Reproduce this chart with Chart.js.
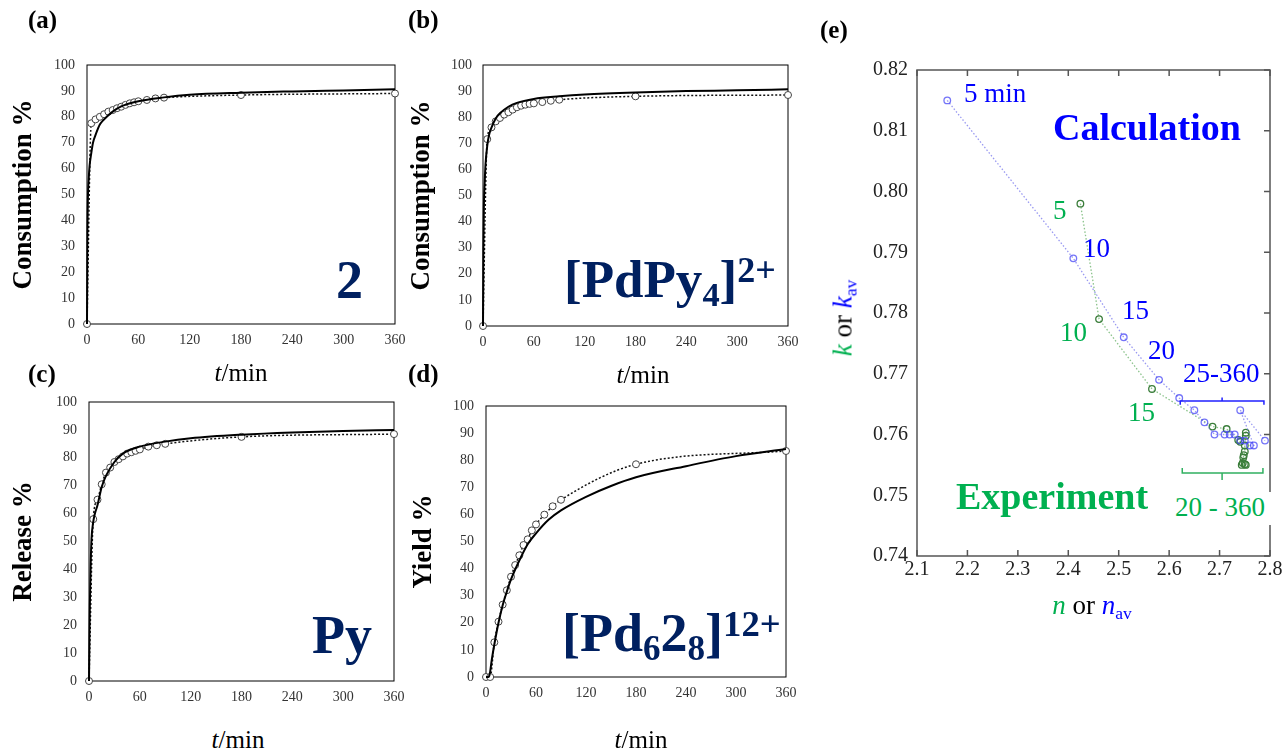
<!DOCTYPE html>
<html>
<head>
<meta charset="utf-8">
<script src="https://cdn.jsdelivr.net/npm/chart.js@4.4.1/dist/chart.umd.min.js"></script>
<style>
  body { margin: 0; background: #fff; }
  #page { position: relative; width: 1284px; height: 750px; font-family: "Liberation Serif", "Times New Roman", serif; overflow: hidden; }
  .box { position: absolute; }
  .lbl { position: absolute; white-space: nowrap; line-height: 1; }
  .navy { color: #002060; font-weight: bold; }
  .lo { font-size: 0.65em; vertical-align: -0.27em; line-height: 0; }
  .hi { font-size: 0.68em; vertical-align: 0.42em; line-height: 0; }
  .blue { color: #0000ff; }
  .green { color: #00b050; }
</style>
</head>
<body>
<div id="page">
  <div class="box" style="left:0;top:0;width:410px;height:360px"><canvas id="chartA"></canvas></div>
  <div class="box" style="left:400px;top:0;width:400px;height:362px"><canvas id="chartB"></canvas></div>
  <div class="box" style="left:0;top:365px;width:410px;height:352px"><canvas id="chartC"></canvas></div>
  <div class="box" style="left:400px;top:365px;width:400px;height:348px"><canvas id="chartD"></canvas></div>
  <div class="box" style="left:820px;top:0;width:464px;height:600px"><canvas id="chartE"></canvas></div>

  <!-- panel letters -->
  <div class="lbl" style="left:28px;top:7px;font-size:25px;font-weight:bold">(a)</div>
  <div class="lbl" style="left:408px;top:7px;font-size:25px;font-weight:bold">(b)</div>
  <div class="lbl" style="left:28px;top:361px;font-size:25px;font-weight:bold">(c)</div>
  <div class="lbl" style="left:408px;top:361px;font-size:25px;font-weight:bold">(d)</div>
  <div class="lbl" style="left:820px;top:17px;font-size:25px;font-weight:bold">(e)</div>

  <!-- x axis titles -->
  <div class="lbl" style="left:141px;top:360px;width:200px;text-align:center;font-size:25px"><i>t</i>/min</div>
  <div class="lbl" style="left:543px;top:362px;width:200px;text-align:center;font-size:25px"><i>t</i>/min</div>
  <div class="lbl" style="left:138px;top:727px;width:200px;text-align:center;font-size:25px"><i>t</i>/min</div>
  <div class="lbl" style="left:541px;top:727px;width:200px;text-align:center;font-size:25px"><i>t</i>/min</div>

  <!-- compound labels -->
  <div class="lbl navy" style="left:336px;top:253px;font-size:54px">2</div>
  <div class="lbl navy" style="left:564px;top:253px;font-size:53px">[PdPy<span class="lo">4</span>]<span class="hi">2+</span></div>
  <div class="lbl navy" style="left:312px;top:608px;font-size:54px">Py</div>
  <div class="lbl navy" style="left:562px;top:606px;font-size:54px">[Pd<span class="lo">6</span>2<span class="lo">8</span>]<span class="hi">12+</span></div>

  <!-- panel (e) annotations -->
  <div class="lbl blue" style="left:964px;top:80px;font-size:27px">5 min</div>
  <div class="lbl blue" style="left:1053px;top:108px;font-size:38px;font-weight:bold">Calculation</div>
  <div class="lbl green" style="left:1053px;top:197px;font-size:27px">5</div>
  <div class="lbl blue" style="left:1083px;top:235px;font-size:27px">10</div>
  <div class="lbl blue" style="left:1122px;top:297px;font-size:27px">15</div>
  <div class="lbl green" style="left:1060px;top:319px;font-size:27px">10</div>
  <div class="lbl blue" style="left:1148px;top:337px;font-size:27px">20</div>
  <div class="lbl blue" style="left:1183px;top:360px;font-size:27px">25-360</div>
  <div class="lbl green" style="left:1128px;top:399px;font-size:27px">15</div>
  <div class="lbl green" style="left:956px;top:477px;font-size:38px;font-weight:bold">Experiment</div>
  <div class="lbl green" style="left:1173px;top:492px;font-size:27px;background:#fff;padding:2px 6px 4px 2px">20 - 360</div>

  <div class="lbl" style="left:992px;top:592px;width:200px;text-align:center;font-size:27px"><i class="green">n</i> or <i class="blue">n</i><span class="blue" style="font-size:0.65em;vertical-align:-0.3em;line-height:0">av</span></div>
  <div class="lbl" style="left:843px;top:318px;font-size:27px;transform:translate(-50%,-50%) rotate(-90deg)"><i class="green">k</i> or <i class="blue">k</i><span class="blue" style="font-size:0.65em;vertical-align:-0.3em;line-height:0">av</span></div>
</div>

<script>
// sampling times (min) of the measured points
const expTime = [0, 5, 10, 15, 20, 25, 30, 35, 40, 45, 50, 55, 60, 70, 80, 90, 180, 360];
const expA = [0, 77.5, 79, 80, 81, 82, 82.6, 83.3, 83.9, 84.6, 85.2, 85.6, 86, 86.5, 87.1, 87.4, 88.4, 89];
const expB = [0, 71.6, 76.1, 78.4, 79.7, 81, 81.9, 82.9, 83.8, 84.4, 84.8, 85.1, 85.3, 85.8, 86.3, 86.7, 88, 88.5];
const expC = [0, 58, 65, 70.5, 74.7, 76.5, 78.5, 79.5, 80.5, 81.5, 82, 82.5, 83, 84, 84.5, 85, 87.5, 88.5];
const expD = [0, 0, 12.8, 20.4, 26.7, 32, 37, 41.3, 44.9, 48.7, 50.8, 54.1, 56.3, 59.9, 63, 65.4, 78.5, 83.4];

// simulated curves (solid lines)
const fitTime = [0, 0.5, 1, 2, 3, 5, 7, 10, 15, 20, 30, 40, 60, 90, 120, 180, 240, 300, 360];
const fitA = [0, 35, 48, 56, 61, 66, 70, 73, 77, 79, 82, 84, 86, 87.5, 88.5, 89.3, 89.8, 90.2, 90.6];
const fitB = [0, 30, 45, 55, 62, 69, 73, 76, 79.5, 81.5, 84, 85.5, 87, 88, 88.7, 89.5, 90, 90.3, 90.7];
const fitC = [0, 15, 27, 42, 51, 57, 60, 63, 69.5, 73.5, 78.5, 81.5, 84, 85.8, 87, 88.3, 89.1, 89.6, 90];
const fitTimeD = [0, 3, 4, 5, 7, 10, 15, 20, 25, 30, 40, 50, 60, 75, 90, 120, 150, 180, 240, 300, 360];
const fitD = [0, 0, 0.5, 2, 6.5, 12, 20, 26.5, 31.5, 36, 43, 49, 53, 58, 61.5, 66.5, 70.5, 73.7, 77.8, 81.5, 84.1];

// panel (e): n vs k, 5..360 min
const calcN = [2.16, 2.41, 2.51, 2.58, 2.62, 2.65, 2.67, 2.69, 2.71, 2.72, 2.73, 2.741, 2.75, 2.76, 2.768, 2.741, 2.79];
const calcK = [0.815, 0.789, 0.776, 0.769, 0.766, 0.764, 0.762, 0.760, 0.760, 0.760, 0.760, 0.759, 0.759, 0.7582, 0.7582, 0.764, 0.759];
const measN = [2.424, 2.461, 2.566, 2.686, 2.714, 2.737, 2.741, 2.752, 2.752, 2.75, 2.75, 2.748, 2.747, 2.744, 2.752, 2.75, 2.746];
const measK = [0.798, 0.779, 0.7675, 0.7613, 0.7609, 0.7591, 0.7588, 0.7603, 0.7598, 0.7582, 0.7572, 0.7566, 0.7562, 0.755, 0.755, 0.7551, 0.7553];

Chart.defaults.font.family = '"Liberation Serif", "Times New Roman", serif';

const pts = (xs, ys) => xs.map((x, i) => ({ x: x, y: ys[i] }));

// fixed axis boxes so the plot areas land where the figure has them
const fixX = h => s => { s.height = h; s.paddingLeft = 0; s.paddingRight = 0; };
const fixY = w => s => { s.width = w; s.paddingTop = 0; s.paddingBottom = 0; };

const framePlugin = {
  id: 'frame',
  beforeDatasetsDraw(chart, args, opts) {
    const a = chart.chartArea;
    const ctx = chart.ctx;
    ctx.save();
    ctx.strokeStyle = opts.color || '#000';
    ctx.lineWidth = opts.width || 1;
    ctx.strokeRect(a.left, a.top, a.right - a.left, a.bottom - a.top);
    ctx.restore();
  }
};

function kinetics(id, expY, fT, fY, yTitle, box) {
  new Chart(document.getElementById(id), {
    type: 'line',
    data: {
      datasets: [
        {
          data: pts(fT, fY),
          borderColor: '#000',
          borderWidth: 2,
          pointRadius: 0,
          cubicInterpolationMode: 'monotone',
          clip: false
        },
        {
          data: pts(expTime, expY),
          borderColor: '#111',
          borderWidth: 1.5,
          borderDash: [2, 2],
          cubicInterpolationMode: 'monotone',
          pointRadius: 3.5,
          pointBorderWidth: 1,
          pointBorderColor: '#444',
          pointBackgroundColor: '#fff',
          clip: false
        }
      ]
    },
    options: {
      animation: false,
      responsive: true,
      maintainAspectRatio: false,
      layout: { padding: { top: box.top, right: box.right, left: 0, bottom: 0 } },
      plugins: { legend: { display: false }, tooltip: { enabled: false }, frame: { color: '#000', width: 1 } },
      scales: {
        x: {
          type: 'linear', min: 0, max: 360,
          ticks: { stepSize: 60, color: '#333', font: { size: 14 }, padding: 8 },
          grid: { display: false, drawTicks: false },
          border: { display: false },
          afterFit: fixX(36)
        },
        y: {
          min: 0, max: 100,
          ticks: { stepSize: 10, color: '#333', font: { size: 14 }, padding: box.pad },
          grid: { display: false, drawTicks: false },
          border: { display: false },
          title: {
            display: true, text: yTitle, color: '#000',
            font: { size: 27, weight: 'bold' },
            padding: { top: box.titlePad, bottom: 0 }
          },
          afterFit: fixY(box.left)
        }
      }
    },
    plugins: [framePlugin]
  });
}

kinetics('chartA', expA, fitTime, fitA, 'Consumption %', { top: 65, right: 15, left: 87, pad: 12, titlePad: 8 });
kinetics('chartB', expB, fitTime, fitB, 'Consumption %', { top: 65, right: 12, left: 83, pad: 11, titlePad: 6 });
kinetics('chartC', expC, fitTime, fitC, 'Release %', { top: 37, right: 16, left: 89, pad: 12, titlePad: 8 });
kinetics('chartD', expD, fitTimeD, fitD, 'Yield %', { top: 41, right: 14, left: 86, pad: 12, titlePad: 8 });

// panel (e) extras: inward ticks and the two range brackets
const innerTicks = {
  id: 'innerTicks',
  afterDatasetsDraw(chart) {
    const { ctx, chartArea: a, scales: { x, y } } = chart;
    ctx.save();
    ctx.strokeStyle = '#555';
    ctx.lineWidth = 1.5;
    ctx.beginPath();
    x.ticks.forEach(t => {
      const px = x.getPixelForValue(t.value);
      ctx.moveTo(px, a.top); ctx.lineTo(px, a.top + 6);
      ctx.moveTo(px, a.bottom); ctx.lineTo(px, a.bottom - 6);
    });
    y.ticks.forEach(t => {
      const py = y.getPixelForValue(t.value);
      ctx.moveTo(a.right, py); ctx.lineTo(a.right - 6, py);
    });
    ctx.stroke();

    const bracket = (n0, n1, nm, k, kEnd, kMid, color) => {
      const x0 = x.getPixelForValue(n0), x1 = x.getPixelForValue(n1), xm = x.getPixelForValue(nm);
      const yy = y.getPixelForValue(k), ye = y.getPixelForValue(kEnd), ym = y.getPixelForValue(kMid);
      ctx.strokeStyle = color;
      ctx.lineWidth = 1.5;
      ctx.beginPath();
      ctx.moveTo(x0, ye); ctx.lineTo(x0, yy); ctx.lineTo(x1, yy); ctx.lineTo(x1, ye);
      ctx.moveTo(xm, yy); ctx.lineTo(xm, ym);
      ctx.stroke();
    };
    bracket(2.622, 2.788, 2.705, 0.7655, 0.7649, 0.7661, '#2020ff');
    bracket(2.626, 2.786, 2.705, 0.75366, 0.75449, 0.7525, '#30b060');
    ctx.restore();
  }
};

new Chart(document.getElementById('chartE'), {
  type: 'scatter',
  data: {
    datasets: [
      {
        data: pts(calcN, calcK),
        showLine: true,
        borderColor: 'rgba(110,110,235,0.7)',
        borderWidth: 1.3,
        borderDash: [1.5, 2],
        pointRadius: 3.3,
        pointBorderWidth: 1.3,
        pointBorderColor: 'rgba(70,70,245,0.75)',
        pointBackgroundColor: 'rgba(255,255,255,0)',
        clip: false
      },
      {
        data: pts(measN, measK),
        showLine: true,
        borderColor: 'rgba(110,180,110,0.8)',
        borderWidth: 1.3,
        borderDash: [1.5, 2],
        pointRadius: 3.3,
        pointBorderWidth: 1.3,
        pointBorderColor: '#3a7d3a',
        pointBackgroundColor: 'rgba(255,255,255,0)',
        clip: false
      }
    ]
  },
  options: {
    animation: false,
    responsive: true,
    maintainAspectRatio: false,
    layout: { padding: { top: 70, right: 14, left: 0, bottom: 0 } },
    plugins: { legend: { display: false }, tooltip: { enabled: false }, frame: { color: '#555', width: 1.5 } },
    scales: {
      x: {
        type: 'linear', min: 2.1, max: 2.8,
        ticks: { stepSize: 0.1, color: '#222', font: { size: 20 }, padding: 2, callback: v => v.toFixed(1) },
        grid: { display: false, drawTicks: false },
        border: { display: false },
        afterFit: fixX(44)
      },
      y: {
        min: 0.74, max: 0.82,
        ticks: { stepSize: 0.01, color: '#222', font: { size: 20 }, padding: 9, callback: v => v.toFixed(2) },
        grid: { display: false, drawTicks: false },
        border: { display: false },
        afterFit: fixY(97)
      }
    }
  },
  plugins: [framePlugin, innerTicks]
});
</script>
</body>
</html>
